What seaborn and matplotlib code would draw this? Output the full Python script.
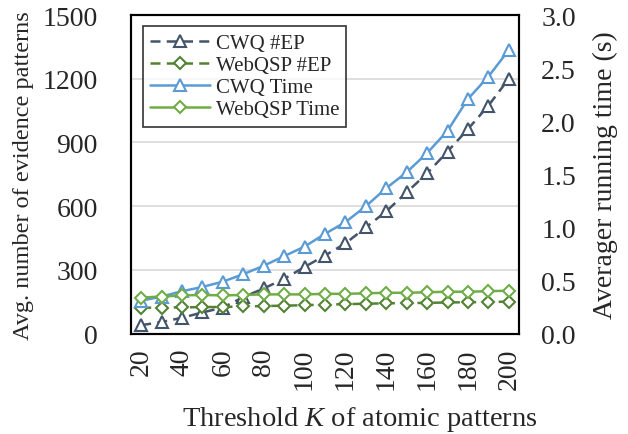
import seaborn as sns
import matplotlib.pyplot as plt

# threshold K values (x axis)
k_values = [20, 30, 40, 50, 60, 70, 80, 90, 100, 110, 120, 130, 140, 150, 160, 170, 180, 190, 200]

# avg number of evidence patterns (left axis)
cwq_ep = [40, 55, 75, 100, 123, 172, 213, 258, 314, 368, 425, 500, 576, 665, 755, 857, 963, 1073, 1200]
webqsp_ep = [122, 123, 124, 125, 126, 128, 130, 132, 134, 137, 139, 141, 143, 144, 145, 147, 148, 149, 151]

# average running time in seconds (right axis)
cwq_time = [0.31, 0.35, 0.40, 0.44, 0.49, 0.56, 0.64, 0.73, 0.82, 0.94, 1.05, 1.20, 1.37, 1.52, 1.70, 1.91, 2.21, 2.42, 2.67]
webqsp_time = [0.34, 0.35, 0.36, 0.365, 0.36, 0.365, 0.37, 0.37, 0.37, 0.375, 0.375, 0.38, 0.385, 0.385, 0.39, 0.395, 0.395, 0.40, 0.405]

sns.set_style("white")
plt.rcParams['font.family'] = ['Liberation Serif', 'DejaVu Serif']
plt.rcParams['mathtext.fontset'] = 'custom'
plt.rcParams['mathtext.it'] = 'Liberation Serif:italic'
plt.rcParams['mathtext.rm'] = 'Liberation Serif'

fig = plt.figure(figsize=(6.28, 4.35), dpi=100)
ax = fig.add_axes([0.2086, 0.2306, 0.6178, 0.7326])
ax2 = ax.twinx()

dark = "#44546A"
dgreen = "#548235"
blue = "#5B9BD5"
green = "#70AD47"
dash = (0, (4, 2.5))

sns.lineplot(x=k_values, y=cwq_ep, ax=ax, color=dark, linestyle=dash, linewidth=1.8,
             marker="^", markersize=8, markerfacecolor="white", markeredgecolor=dark, markeredgewidth=1.5,
             label="CWQ #EP", legend=False)
sns.lineplot(x=k_values, y=webqsp_ep, ax=ax, color=dgreen, linestyle=dash, linewidth=1.8,
             marker="D", markersize=6, markerfacecolor="white", markeredgecolor=dgreen, markeredgewidth=1.5,
             label="WebQSP #EP", legend=False)
sns.lineplot(x=k_values, y=cwq_time, ax=ax2, color=blue, linewidth=1.8,
             marker="^", markersize=8, markerfacecolor="white", markeredgecolor=blue, markeredgewidth=1.5,
             label="CWQ Time", legend=False)
sns.lineplot(x=k_values, y=webqsp_time, ax=ax2, color=green, linewidth=1.8,
             marker="D", markersize=6, markerfacecolor="white", markeredgecolor=green, markeredgewidth=1.5,
             label="WebQSP Time", legend=False)

ax.set_xlim(15, 205)
ax.set_ylim(0, 1500)
ax2.set_ylim(0, 3.0)
ax.set_xticks(range(20, 201, 20))
ax.set_yticks(range(0, 1501, 300))
ax2.set_yticks([0.0, 0.5, 1.0, 1.5, 2.0, 2.5, 3.0])
ax2.set_yticklabels(["0.0", "0.5", "1.0", "1.5", "2.0", "2.5", "3.0"])
ax.tick_params(axis="x", labelsize=20, rotation=90, length=0, pad=10)
ax.tick_params(axis="y", labelsize=20, length=0, pad=24)
ax2.tick_params(axis="y", labelsize=20, length=0, pad=16)

ax.yaxis.grid(True, color="#D9D9D9", linewidth=1.2)
ax.set_axisbelow(True)
for a in (ax, ax2):
    for s in a.spines.values():
        s.set_color("black")
        s.set_linewidth(1.5)

ax.set_xlabel("Threshold $K$ of atomic patterns", fontsize=20.5, labelpad=10)
ax.xaxis.set_label_coords(0.59, -0.22, transform=ax.transAxes)
ax.xaxis.label.set_va("top")
ax.set_ylabel("Avg. number of evidence patterns", fontsize=17.5, labelpad=6)
ax2.set_ylabel("Averager running time (s)", fontsize=20, labelpad=12)

h1, l1 = ax.get_legend_handles_labels()
h2, l2 = ax2.get_legend_handles_labels()
leg = ax2.legend(h1 + h2, l1 + l2, loc="upper left", bbox_to_anchor=(0.03, 0.965), fontsize=15,
                 frameon=True, fancybox=False, edgecolor="black", handlelength=2.9,
                 labelspacing=0.12, borderpad=0.35, handletextpad=0.25, borderaxespad=0)
leg.get_frame().set_linewidth(1.2)

fig.savefig("out.png", dpi=100)
